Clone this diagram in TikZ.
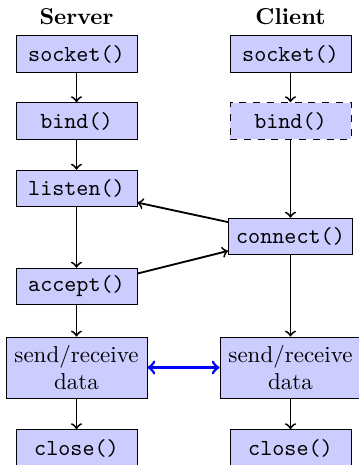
\documentclass[tikz,border=0pt]{standalone}
\usetikzlibrary{arrows}
\begin{document}
\begin{tikzpicture}[x=0.4348pt,y=-0.4348pt,
  fnbox/.style={draw=black, fill=blue!20, font=\ttfamily, minimum width=52.6pt, minimum height=15.9pt, inner ysep=2.9pt},
  databox/.style={draw=black, fill=blue!20, align=center, minimum width=61.3pt, minimum height=26.5pt, inner ysep=2.9pt},
  title/.style={font=\bfseries, anchor=base},
  flow/.style={->, thick},
  xfer/.style={<->, very thick, blue}]
\useasboundingbox (0,0) rectangle (359,465);
\node[title] (st) at (76.5,24) {Server};
\node[title] (ct) at (290.5,24) {Client};
\node[fnbox] (ssock) at (76.5,54) {socket()};
\node[fnbox] (sbind) at (76.5,121) {bind()};
\node[fnbox] (slisten) at (76.5,188.5) {listen()};
\node[fnbox] (saccept) at (76.5,286.5) {accept()};
\node[databox] (sdata) at (76.5,367.5) {send/receive\\data};
\node[fnbox] (sclose) at (76.5,448) {close()};
\node[fnbox] (csock) at (290.5,54) {socket()};
\node[fnbox, dashed] (cbind) at (290.5,121) {bind()};
\node[fnbox] (cconn) at (290.5,236.5) {connect()};
\node[databox] (cdata) at (290.5,367.5) {send/receive\\data};
\node[fnbox] (cclose) at (290.5,448) {close()};
\draw[flow] (ssock) -- (sbind);
\draw[flow] (sbind) -- (slisten);
\draw[flow] (slisten) -- (saccept);
\draw[flow] (saccept) -- (sdata);
\draw[flow] (sdata) -- (sclose);
\draw[flow] (csock) -- (cbind);
\draw[flow] (cbind) -- (cconn);
\draw[flow] (cconn) -- (cdata);
\draw[flow] (cdata) -- (cclose);
\draw[flow] (cconn.167.8) -- (slisten.-13.4);
\draw[flow] (saccept.12.7) -- (cconn.193.7);
\draw[xfer] (sdata) -- (cdata);
\end{tikzpicture}
\end{document}
